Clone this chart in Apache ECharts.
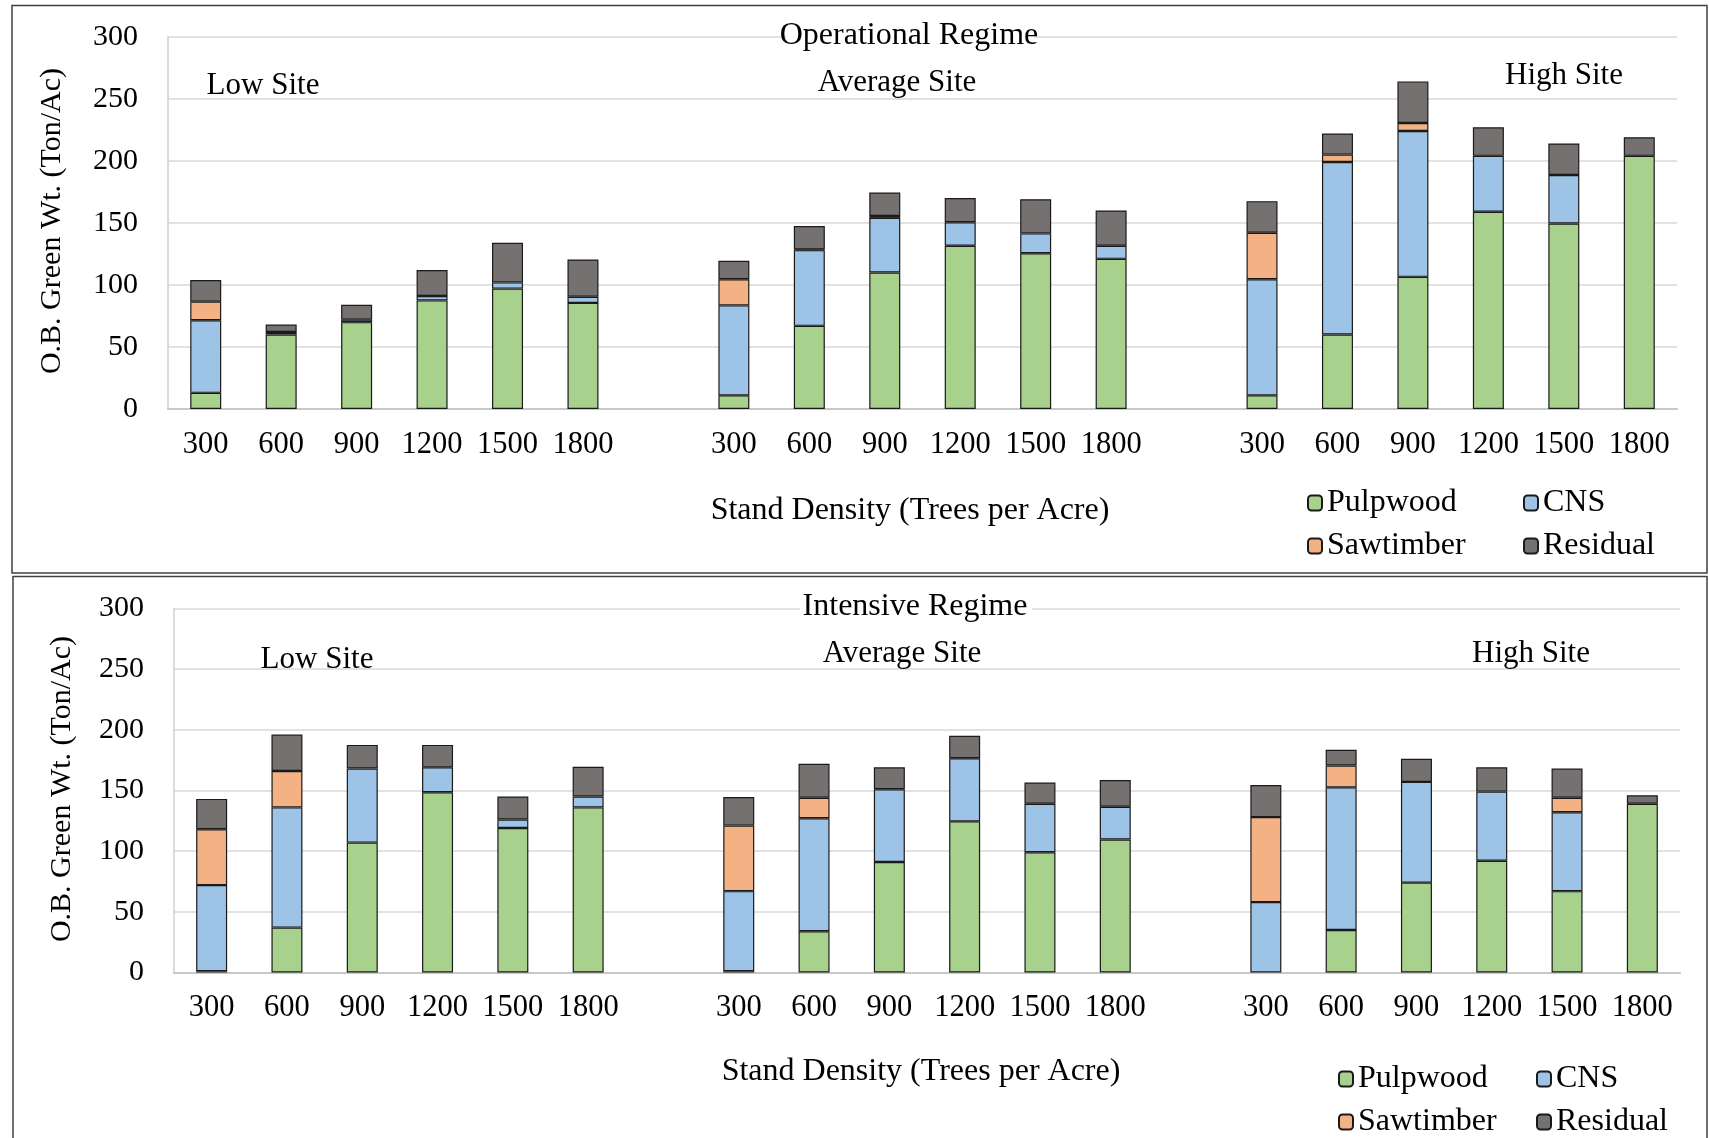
<!DOCTYPE html>
<html>
<head>
<meta charset="utf-8">
<script src="https://cdn.jsdelivr.net/npm/echarts@6/dist/echarts.min.js"></script>
<style>
html,body{margin:0;padding:0;background:#fff;}
#chart{width:1709px;height:1138px;}
</style>
</head>
<body>
<div id="chart"></div>
<script>
// ---- Data ----
const sites = ['Low Site', 'Average Site', 'High Site'];
const densities = ['300', '600', '900', '1200', '1500', '1800'];
const seriesNames = ['Pulpwood', 'CNS', 'Sawtimber', 'Residual'];
const regimeTitles = ['Operational Regime', 'Intensive Regime'];

// Operational regime (Low 300..1800, Average 300..1800, High 300..1800)
const opPulpwood  = [13, 60, 70, 87.5, 97, 85.5,   11, 67, 110, 131.5, 125.5, 121,   11, 60, 106.5, 159, 149.5, 204];
const opCNS       = [58.5, 2, 2, 3.5, 5, 5,        72.5, 61, 44, 19, 16, 10.5,       93.5, 139, 117.5, 45, 39, 0];
const opSawtimber = [15, 0, 0, 0, 0, 0,            21, 0.5, 1.5, 0, 0, 0,            37.5, 6, 6.5, 0, 0, 0];
const opResidual  = [17.5, 6, 12, 21, 32, 30,      15, 19, 19, 19.5, 27.5, 28.5,     25.5, 17, 33.5, 23, 25.5, 15];

// Intensive regime
const inPulpwood  = [1, 37, 107, 148.5, 119, 136,  1, 34, 91, 124.5, 99, 109.5,      0, 35, 74, 92, 67, 139];
const inCNS       = [71, 99, 61, 20.5, 7, 9,       66, 93, 60, 52, 40, 27,           58, 117.5, 83, 57, 65, 0];
const inSawtimber = [46, 30, 0, 0, 0, 0,           54, 17, 0, 0, 0, 0,               70, 18, 0, 0, 12, 0];
const inResidual  = [25, 30, 19.5, 18.5, 19, 24.5, 23.5, 28, 18, 18.5, 17.5, 22,     26.5, 13, 19, 20, 24, 7];

const yTicks = { min: 0, max: 300, interval: 50 };

// ---- Build helpers ----
const categories = [];
sites.forEach((s, i) => {
  densities.forEach(d => categories.push(s + '|' + d));
  if (i < sites.length - 1) categories.push('gap' + i);
});
function expand(arr) {
  const out = [];
  sites.forEach((s, i) => {
    arr.slice(i * 6, i * 6 + 6).forEach(v => out.push(v === 0 ? null : v));
    if (i < sites.length - 1) out.push(null);
  });
  return out;
}
const colors = { Pulpwood: '#A9D18E', CNS: '#9DC3E6', Sawtimber: '#F4B183', Residual: '#767171' };
const FONT = '"Liberation Serif", "Times New Roman", serif';
const regimes = [
  [opPulpwood, opCNS, opSawtimber, opResidual],
  [inPulpwood, inCNS, inSawtimber, inResidual]
];

const grids = [
  { left: 168, top: 36.7, width: 1509, height: 372.3 },
  { left: 174, top: 608.3, width: 1506, height: 364.2 }
];

const series = [];
regimes.forEach((vals, gi) => {
  seriesNames.forEach((name, si) => {
    series.push({
      name: name,
      type: 'bar',
      stack: 'g' + gi,
      xAxisIndex: gi,
      yAxisIndex: gi,
      barWidth: 31,
      data: expand(vals[si]),
      itemStyle: { color: colors[name], borderColor: '#1a1a1a', borderWidth: 1.2 },
      emphasis: { disabled: true },
      animation: false
    });
  });
});

function xAxisCfg(gi) {
  return {
    type: 'category', gridIndex: gi, data: categories,
    axisTick: { show: false },
    axisLine: { lineStyle: { color: '#C8C8C8', width: 2 } },
    axisLabel: {
      interval: 0, margin: 20, color: '#000', fontFamily: FONT, fontSize: 30.5,
      formatter: v => (v.split('|')[1] || '')
    }
  };
}
function yAxisCfg(gi) {
  return {
    type: 'value', gridIndex: gi, min: yTicks.min, max: yTicks.max, interval: yTicks.interval,
    axisLine: { show: true, lineStyle: { color: '#D0D0D0', width: 1.5 } },
    axisTick: { show: false },
    splitLine: { lineStyle: { color: '#D9D9D9', width: 1.5 } },
    axisLabel: { margin: 30, color: '#000', fontFamily: FONT, fontSize: 30 }
  };
}

function legendCfg(items, left, top) {
  return {
    data: items, orient: 'vertical', left: left, top: top, padding: 0,
    itemWidth: 14, itemHeight: 15, itemGap: 11, selectedMode: false,
    textStyle: { color: '#000', fontFamily: FONT, fontSize: 32, lineHeight: 32 }
  };
}

function txt(text, x, y, size, extra) {
  return {
    type: 'text', x: x, y: y, silent: true, z: 100,
    style: Object.assign({ text: text, x: 0, y: 0, fill: '#000', font: size + 'px ' + FONT, align: 'center', verticalAlign: 'middle' }, extra || {})
  };
}

const graphic = [
  { type: 'rect', shape: { x: 12, y: 5.5, width: 1695, height: 567.5 }, style: { fill: null, stroke: '#404040', lineWidth: 1.5 }, silent: true },
  { type: 'rect', shape: { x: 13, y: 576.5, width: 1694, height: 620 }, style: { fill: null, stroke: '#404040', lineWidth: 1.5 }, silent: true },
  { type: 'rect', z: 99, silent: true, shape: { x: 786, y: 30, width: 248, height: 12 }, style: { fill: '#fff' } },
  txt(regimeTitles[0], 909, 35.5, 32),
  txt(sites[0], 263, 86, 31),
  txt(sites[1], 897, 82.5, 31),
  txt(sites[2], 1564, 75.5, 31),
  txt('Stand Density (Trees per Acre)', 910, 510.5, 32),
  Object.assign(txt('O.B. Green Wt. (Ton/Ac)', 52, 221, 30), { rotation: Math.PI / 2 }),
  { type: 'rect', z: 99, silent: true, shape: { x: 800, y: 602, width: 232, height: 12 }, style: { fill: '#fff' } },
  txt(regimeTitles[1], 915, 606.5, 32),
  txt(sites[0], 317, 660, 31),
  txt(sites[1], 902, 653.5, 31),
  txt(sites[2], 1531, 653.5, 31),
  txt('Stand Density (Trees per Acre)', 921, 1072, 32),
  Object.assign(txt('O.B. Green Wt. (Ton/Ac)', 62, 789, 30), { rotation: Math.PI / 2 })
];

const chart = echarts.init(document.getElementById('chart'), null, { renderer: 'canvas' });
chart.setOption({
  animation: false,
  backgroundColor: '#fff',
  grid: grids,
  xAxis: [xAxisCfg(0), xAxisCfg(1)],
  yAxis: [yAxisCfg(0), yAxisCfg(1)],
  legend: [
    legendCfg(['Pulpwood', 'Sawtimber'], 1307, 487),
    legendCfg(['CNS', 'Residual'], 1523, 487),
    legendCfg(['Pulpwood', 'Sawtimber'], 1338, 1063),
    legendCfg(['CNS', 'Residual'], 1536, 1063)
  ],
  series: series,
  graphic: graphic
});
</script>
</body>
</html>
